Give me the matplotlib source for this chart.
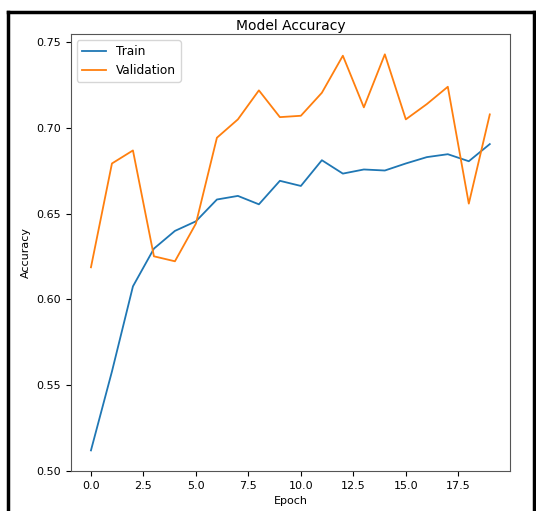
import numpy as np
import matplotlib
matplotlib.use("Agg")
import matplotlib.pyplot as plt
from matplotlib.lines import Line2D

# accuracy per epoch
epochs = list(range(20))
train_acc = [0.512, 0.558, 0.6076, 0.6296, 0.6399, 0.6455, 0.6582, 0.6603, 0.6554, 0.6691,
             0.6661, 0.6811, 0.6733, 0.6757, 0.6751, 0.6792, 0.6829, 0.6846, 0.6805, 0.6905]
val_acc = [0.6187, 0.6792, 0.6868, 0.6251, 0.6222, 0.6442, 0.6942, 0.7049, 0.7218, 0.7062,
           0.7070, 0.7204, 0.7420, 0.7119, 0.7428, 0.7049, 0.7138, 0.7239, 0.6558, 0.7078]

fig = plt.figure(figsize=(5.36, 5.11), dpi=100)
ax = fig.add_axes([0.1325, 0.0783, 0.8185, 0.855])

ax.plot(epochs, train_acc, label="Train", lw=1.3)
ax.plot(epochs, val_acc, label="Validation", lw=1.3)

ax.set_ylim(0.50, 0.7546)
ax.set_title("Model Accuracy", fontsize=10, pad=3)
ax.set_xlabel("Epoch", fontsize=8)
ax.set_ylabel("Accuracy", fontsize=8)
ax.tick_params(labelsize=8)
ax.legend(loc="upper left", fontsize=8.7)
for s in ax.spines.values():
    s.set_color("#555555")

# black frame around the screenshot
W, H = 536, 511
for xs, ys in [([8, 8], [0, H - 12]), ([8, 534], [H - 12, H - 12]), ([534, 534], [0, H - 12])]:
    fig.add_artist(Line2D(np.array(xs) / W, np.array(ys) / H, color="black", lw=2.5,
                          transform=fig.transFigure))

fig.savefig("out.png", dpi=100)
